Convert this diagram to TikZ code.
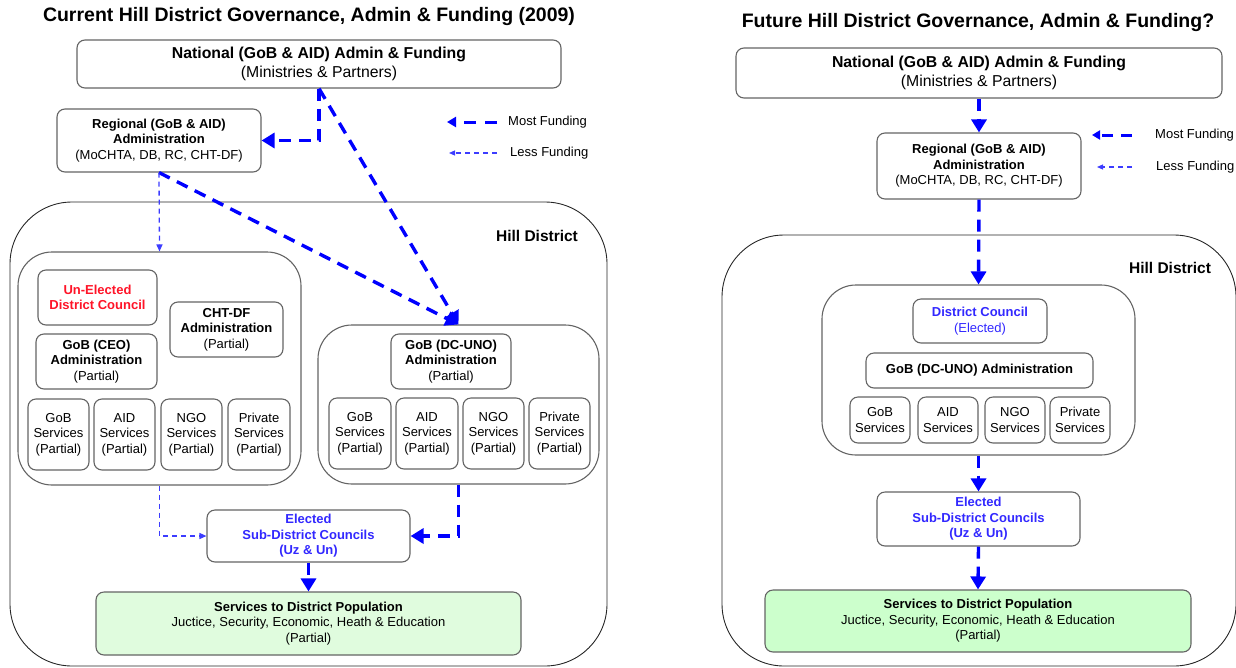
\documentclass[tikz,border=0pt]{standalone}
\usepackage{fontspec}
\setmainfont{Liberation Sans}
\usetikzlibrary{arrows.meta}

\definecolor{edge}{RGB}{100,100,100}
\definecolor{flow}{RGB}{0,0,255}
\definecolor{thinflow}{RGB}{60,60,255}
\definecolor{redtxt}{RGB}{255,20,40}
\definecolor{bluetxt}{RGB}{50,40,255}
\definecolor{palegreen}{RGB}{224,252,222}
\definecolor{lightgreen}{RGB}{204,255,204}

\newcommand{\fsz}[2]{\fontsize{#1}{#2}\selectfont}

\begin{document}
\begin{tikzpicture}[x=1pt,y=-1pt,
  box/.style={draw=edge, line width=1.1pt, rounded corners=8pt, fill=white,
              align=center, inner sep=0pt, font=\fsz{13}{15.5}},
  area/.style={draw=black!85, line width=0.9pt, rounded corners=62pt},
  group/.style={draw=edge, line width=1.1pt, rounded corners=34pt},
  most/.style={draw=flow, line width=3.4pt, dash pattern=on 12pt off 8pt,
               -{Triangle[length=13pt,width=15pt]}},
  less/.style={draw=thinflow, line width=1.3pt, dash pattern=on 5pt off 4pt,
               -{Triangle[length=7pt,width=6pt]}},
  heading/.style={font=\fsz{19.5}{22}\bfseries, inner sep=0pt},
  legend/.style={font=\fsz{13}{15}, anchor=west, inner sep=0pt},
  label/.style={font=\fsz{15.5}{18}\bfseries, inner sep=0pt},
]
\useasboundingbox (0,0) rectangle (1236,667);
\begin{scope}
\clip (0,0) rectangle (1236,667);

%% ---------------- current arrangement (left) ----------------
\node[heading] (ltitle) at (309,16) {Current Hill District Governance, Admin \& Funding (2009)};

\draw[area] (10,202) rectangle (607,666);
\node[label] (lhill) at (537,236) {Hill District};

\node[box, minimum width=484pt, minimum height=48pt, font=\fsz{15.8}{19}] (lnat) at (319,64)
  {\textbf{National (GoB \& AID) Admin \& Funding}\\(Ministries \& Partners)};
\node[box, minimum width=204pt, minimum height=63pt] (lreg) at (159,140.5)
  {\textbf{Regional (GoB \& AID)}\\\textbf{Administration}\\(MoCHTA, DB, RC, CHT-DF)};

% legend
\coordinate (lm1) at (497,122); \coordinate (lm2) at (447,122);
\draw[most, dash pattern=on 12pt off 9pt, -{Triangle[length=9pt,width=10pt]}, line width=3pt] (lm1) -- (lm2);
\node[legend] (lmost) at (508,122) {Most Funding};
\coordinate (ll1) at (497,153); \coordinate (ll2) at (449,153);
\draw[less, line width=1.1pt, -{Triangle[length=6pt,width=5pt]}] (ll1) -- (ll2);
\node[legend] (lless) at (510,153) {Less Funding};

% district council side
\node[group, minimum width=283pt, minimum height=233pt, inner sep=0pt] (linner) at (159.5,368.5) {};
\node[box, minimum width=119pt, minimum height=55pt, text=redtxt, font=\fsz{13}{15.5}\bfseries] (unel) at (97.5,297.5)
  {Un-Elected\\District Council};
\node[box, minimum width=113pt, minimum height=55pt] (chtdf) at (226.5,329.5)
  {\textbf{CHT-DF}\\\textbf{Administration}\\(Partial)};
\node[box, minimum width=121pt, minimum height=55pt] (ceo) at (96.5,361.5)
  {\textbf{GoB (CEO)}\\\textbf{Administration}\\(Partial)};
\node[box, minimum width=61pt, minimum height=71pt] (ls1) at (58.5,434.5) {GoB\\Services\\(Partial)};
\node[box, minimum width=61pt, minimum height=71pt] (ls2) at (124.5,434.5) {AID\\Services\\(Partial)};
\node[box, minimum width=61pt, minimum height=71pt] (ls3) at (191.5,434.5) {NGO\\Services\\(Partial)};
\node[box, minimum width=62pt, minimum height=71pt] (ls4) at (259,434.5) {Private\\Services\\(Partial)};

% DC-UNO side
\node[group, minimum width=281pt, minimum height=159pt, inner sep=0pt] (rinner) at (458.5,404.5) {};
\node[box, minimum width=120pt, minimum height=55pt] (dcuno) at (451,361.5)
  {\textbf{GoB (DC-UNO)}\\\textbf{Administration}\\(Partial)};
\node[box, minimum width=62pt, minimum height=71pt] (rs1) at (360,433.5) {GoB\\Services\\(Partial)};
\node[box, minimum width=62pt, minimum height=71pt] (rs2) at (427,433.5) {AID\\Services\\(Partial)};
\node[box, minimum width=61pt, minimum height=71pt] (rs3) at (493.5,433.5) {NGO\\Services\\(Partial)};
\node[box, minimum width=61pt, minimum height=71pt] (rs4) at (559.5,433.5) {Private\\Services\\(Partial)};

\node[box, minimum width=203pt, minimum height=52pt, text=bluetxt, font=\fsz{13}{15.5}\bfseries] (lsub) at (308.5,536)
  {Elected\\Sub-District Councils\\(Uz \& Un)};
\node[box, minimum width=425pt, minimum height=63pt, fill=palegreen] (lpop) at (308.5,623.5)
  {\textbf{Services to District Population}\\Juctice, Security, Economic, Heath \& Education\\(Partial)};

% funding flows
\draw[most] (lnat.south) |- (lreg.east);
\draw[most] (lnat.south) -- (rinner.north);
\draw[most] (lreg.south) -- (rinner.north);
\draw[less] (lreg.south) -- (linner.north);
\draw[less] (linner.south) |- (lsub.west);
\draw[most] (rinner.south) |- (lsub.east);
\draw[most] (lsub.south) -- (lpop.north);

%% ---------------- future arrangement (right) ----------------
\node[heading] (rtitle) at (978,22) {Future Hill District Governance, Admin \& Funding?};

\draw[area] (722,235) rectangle (1236,666);
\node[label] (rhill) at (1170,268) {Hill District};

\node[box, minimum width=486pt, minimum height=50pt, font=\fsz{15.8}{19}] (rnat) at (979,73)
  {\textbf{National (GoB \& AID) Admin \& Funding}\\(Ministries \& Partners)};
\node[box, minimum width=204pt, minimum height=66pt] (rreg) at (979,166)
  {\textbf{Regional (GoB \& AID)}\\\textbf{Administration}\\(MoCHTA, DB, RC, CHT-DF)};

% legend
\coordinate (rm1) at (1132,135); \coordinate (rm2) at (1092,135);
\draw[most, dash pattern=on 11pt off 8pt, -{Triangle[length=8pt,width=9pt]}, line width=3pt] (rm1) -- (rm2);
\node[legend] (rmost) at (1155,135) {Most Funding};
\coordinate (rl1) at (1132,167); \coordinate (rl2) at (1097,167);
\draw[less, line width=1.1pt, -{Triangle[length=6pt,width=5pt]}] (rl1) -- (rl2);
\node[legend] (rless) at (1156,167) {Less Funding};

\node[group, minimum width=313pt, minimum height=170pt, inner sep=0pt] (finner) at (978.5,370) {};
\node[box, minimum width=134pt, minimum height=44pt, text=bluetxt] (fdc) at (980,321)
  {\textbf{District Council}\\(Elected)};
\node[box, minimum width=227pt, minimum height=35pt, font=\fsz{13}{15.5}\bfseries] (fdcuno) at (979.5,370.5)
  {GoB (DC-UNO) Administration};
\node[box, minimum width=60pt, minimum height=46pt] (fs1) at (880,420) {GoB\\Services};
\node[box, minimum width=60pt, minimum height=46pt] (fs2) at (948,420) {AID\\Services};
\node[box, minimum width=60pt, minimum height=46pt] (fs3) at (1015,420) {NGO\\Services};
\node[box, minimum width=60pt, minimum height=46pt] (fs4) at (1080,420) {Private\\Services};

\node[box, minimum width=203pt, minimum height=54pt, text=bluetxt, font=\fsz{13}{15.5}\bfseries] (fsub) at (978.5,519)
  {Elected\\Sub-District Councils\\(Uz \& Un)};
\node[box, minimum width=426pt, minimum height=62pt, fill=lightgreen] (fpop) at (978,621)
  {\textbf{Services to District Population}\\Juctice, Security, Economic, Heath \& Education\\(Partial)};

% funding flows
\draw[most] (rnat.south) -- (rreg.north);
\draw[most] (rreg.south) -- (finner.north);
\draw[most] (finner.south) -- (fsub.north);
\draw[most] (fsub.south) -- (fpop.north);
\end{scope}
\end{tikzpicture}
\end{document}
